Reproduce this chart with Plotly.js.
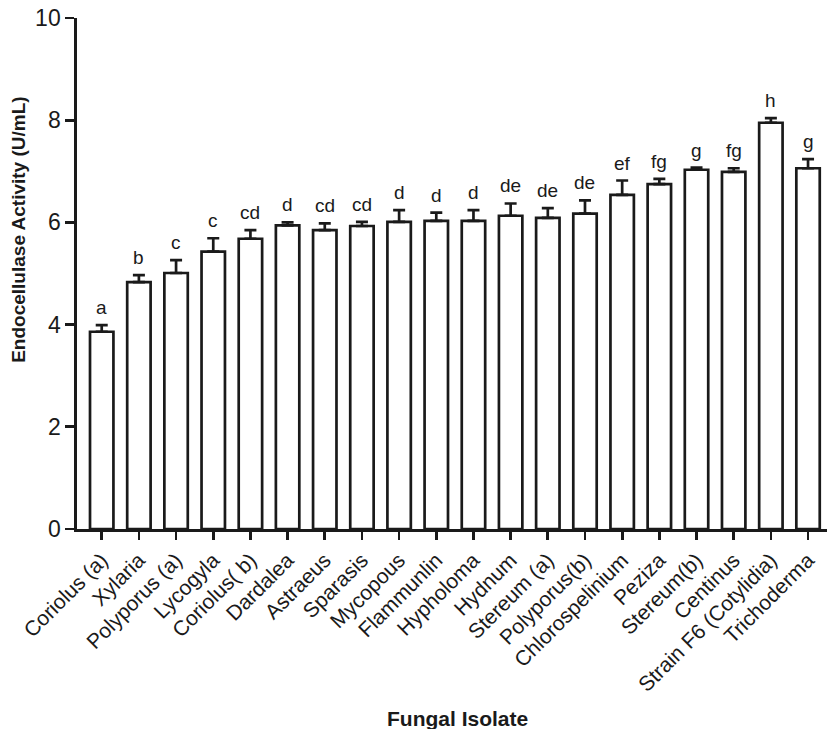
<!DOCTYPE html>
<html>
<head>
<meta charset="utf-8">
<script src="https://cdn.plot.ly/plotly-3.0.1.min.js"></script>
<style>
  html, body { margin: 0; padding: 0; background: #fff; }
  #chart { width: 828px; height: 729px; }
</style>
</head>
<body>
<div id="chart"></div>
<script>
// Fungal isolates, mean endocellulase activity (U/mL), SE and significance groups
const isolates = [
  'Coriolus (a)', 'Xylaria', 'Polyporus (a)', 'Lycogyla', 'Coriolus( b)',
  'Dardalea', 'Astraeus', 'Sparasis', 'Mycopous', 'Flammunlin',
  'Hypholoma', 'Hydnum', 'Stereum (a)', 'Polyporus(b)', 'Chlorospelinium',
  'Peziza', 'Stereum(b)', 'Centinus', 'Strain F6 (Cotylidia)', 'Trichoderma'
];
const activity = [3.86, 4.83, 5.01, 5.43, 5.68, 5.94, 5.85, 5.93, 6.01, 6.03,
                  6.03, 6.13, 6.09, 6.17, 6.54, 6.75, 7.03, 6.99, 7.95, 7.06];
const stdErr = [0.13, 0.14, 0.25, 0.26, 0.17, 0.06, 0.13, 0.08, 0.23, 0.16,
                0.21, 0.24, 0.19, 0.26, 0.28, 0.10, 0.04, 0.07, 0.09, 0.18];
const groups = ['a', 'b', 'c', 'c', 'cd', 'd', 'cd', 'cd', 'd', 'd',
                'd', 'de', 'de', 'de', 'ef', 'fg', 'g', 'fg', 'h', 'g'];
const yTicks = [0, 2, 4, 6, 8, 10];

const FONT = 'Liberation Sans, Arial, Helvetica, sans-serif';
const INK = '#1a1a1a';

const bars = {
  type: 'bar',
  x: isolates,
  y: activity,
  width: 0.63,
  marker: { color: '#ffffff', line: { color: INK, width: 2.7 } },
  error_y: {
    type: 'data',
    symmetric: false,
    array: stdErr,
    arrayminus: activity.map(() => 0),
    color: INK,
    thickness: 2.7,
    width: 6
  },
  hoverinfo: 'x+y'
};

// Significance letters sit just above each error cap
const notes = isolates.map((name, i) => ({
  x: name,
  y: activity[i] + stdErr[i],
  xref: 'x', yref: 'y',
  text: groups[i],
  showarrow: false,
  yanchor: 'bottom',
  yshift: 5,
  font: { family: FONT, size: 19, color: INK }
}));

// Axis titles
notes.push({
  xref: 'paper', yref: 'paper',
  x: -0.079, y: 0.585,
  xanchor: 'center', yanchor: 'middle',
  textangle: -90,
  text: '<b>Endocellulase Activity (U/mL)</b>',
  showarrow: false,
  font: { family: FONT, size: 19, color: INK }
});
notes.push({
  xref: 'paper', yref: 'paper',
  x: 0.507, y: -0.37,
  xanchor: 'center', yanchor: 'middle',
  text: '<b>Fungal Isolate</b>',
  showarrow: false,
  font: { family: FONT, size: 21, color: INK }
});

const layout = {
  width: 828,
  height: 729,
  margin: { l: 77, r: 1, t: 18, b: 200 },
  paper_bgcolor: '#ffffff',
  plot_bgcolor: '#ffffff',
  showlegend: false,
  font: { family: FONT, color: INK },
  xaxis: {
    type: 'category',
    range: [-0.665, 19.51],
    showline: true,
    linecolor: INK,
    linewidth: 2.7,
    ticks: 'outside',
    ticklen: 8,
    tickwidth: 2.7,
    tickcolor: INK,
    tickangle: -45,
    tickfont: { family: FONT, size: 21, color: INK },
    showgrid: false,
    zeroline: false
  },
  yaxis: {
    range: [0, 10],
    tickvals: yTicks,
    ticktext: yTicks.map(String),
    showline: true,
    linecolor: INK,
    linewidth: 2.7,
    ticks: 'outside',
    ticklen: 9,
    tickwidth: 2.7,
    tickcolor: INK,
    tickfont: { family: FONT, size: 23, color: INK },
    showgrid: false,
    zeroline: false
  },
  annotations: notes
};

Plotly.newPlot('chart', [bars], layout, { staticPlot: true });
</script>
</body>
</html>
